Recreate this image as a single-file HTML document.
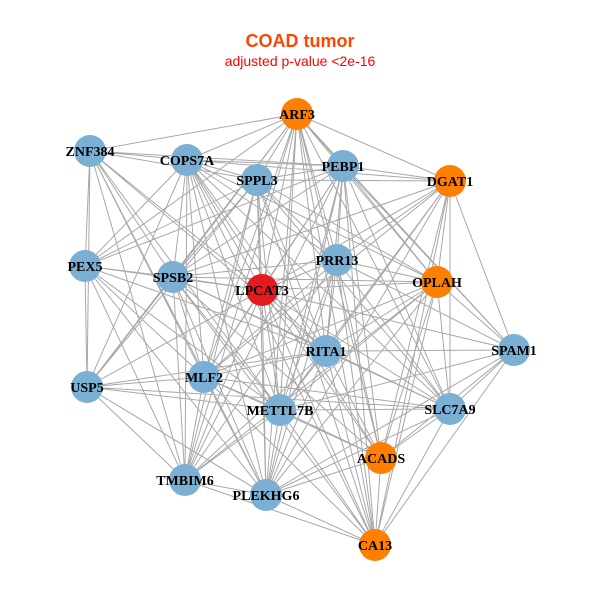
<!DOCTYPE html>
<html><head><meta charset="utf-8"><style>body{margin:0;background:#fff}svg{display:block}</style></head><body>
<svg width="600" height="600" xmlns="http://www.w3.org/2000/svg">
<rect width="600" height="600" fill="#fff"/>
<text x="300" y="47" text-anchor="middle" font-family="Liberation Sans, sans-serif" font-weight="bold" font-size="18" fill="#FF4500">COAD tumor</text>
<text x="300" y="66" text-anchor="middle" font-family="Liberation Sans, sans-serif" font-size="14" fill="#FF0000">adjusted p-value &lt;2e-16</text>
<path fill="none" stroke="#a8a8a8" stroke-width="1" d="
M297 114L90 151M297 114L187 160M297 114L257 180M297 114L343 166M297 114L450 181M297 114L85 266M297 114L173 277M297 114L337 260M297 114L262 290M297 114L437 282M297 114L514 350M297 114L326 351M297 114L204 377M297 114L87 387M297 114L280 410M297 114L450 409M297 114L381 458M297 114L185 480M297 114L266 495M297 114L375 545
M90 151L187 160M90 151L257 180M90 151L343 166M90 151L85 266M90 151L173 277M90 151L262 290M90 151L326 351M90 151L204 377M90 151L87 387M90 151L280 410M90 151L185 480M90 151L266 495
M187 160L257 180M187 160L343 166M187 160L450 181M187 160L85 266M187 160L173 277M187 160L337 260M187 160L262 290M187 160L437 282M187 160L326 351M187 160L204 377M187 160L87 387M187 160L280 410M187 160L450 409M187 160L381 458M187 160L185 480M187 160L266 495M187 160L375 545
M257 180L343 166M257 180L450 181M257 180L85 266M257 180L173 277M257 180L337 260M257 180L262 290M257 180L437 282M257 180L326 351M257 180L204 377M257 180L87 387M257 180L280 410M257 180L450 409M257 180L185 480M257 180L266 495M257 180L375 545
M343 166L450 181M343 166L85 266M343 166L173 277M343 166L337 260M343 166L262 290M343 166L437 282M343 166L514 350M343 166L326 351M343 166L204 377M343 166L280 410M343 166L450 409M343 166L381 458M343 166L185 480M343 166L266 495M343 166L375 545
M450 181L173 277M450 181L337 260M450 181L262 290M450 181L437 282M450 181L514 350M450 181L326 351M450 181L204 377M450 181L280 410M450 181L450 409M450 181L381 458M450 181L266 495M450 181L375 545
M85 266L173 277M85 266L262 290M85 266L326 351M85 266L204 377M85 266L87 387M85 266L280 410M85 266L185 480M85 266L266 495
M173 277L337 260M173 277L262 290M173 277L437 282M173 277L326 351M173 277L204 377M173 277L87 387M173 277L280 410M173 277L450 409M173 277L381 458M173 277L185 480M173 277L266 495M173 277L375 545
M337 260L262 290M337 260L437 282M337 260L514 350M337 260L326 351M337 260L204 377M337 260L280 410M337 260L450 409M337 260L381 458M337 260L185 480M337 260L266 495M337 260L375 545
M262 290L437 282M262 290L514 350M262 290L326 351M262 290L204 377M262 290L87 387M262 290L280 410M262 290L450 409M262 290L381 458M262 290L185 480M262 290L266 495M262 290L375 545
M437 282L514 350M437 282L326 351M437 282L204 377M437 282L280 410M437 282L450 409M437 282L381 458M437 282L185 480M437 282L266 495M437 282L375 545
M514 350L326 351M514 350L280 410M514 350L450 409M514 350L381 458M514 350L266 495M514 350L375 545
M326 351L204 377M326 351L87 387M326 351L280 410M326 351L450 409M326 351L381 458M326 351L185 480M326 351L266 495M326 351L375 545
M204 377L87 387M204 377L280 410M204 377L450 409M204 377L381 458M204 377L185 480M204 377L266 495M204 377L375 545
M87 387L280 410M87 387L185 480M87 387L266 495M87 387L450 409
M280 410L450 409M280 410L381 458M280 410L185 480M280 410L266 495M280 410L375 545
M450 409L381 458M450 409L266 495M450 409L375 545
M381 458L266 495M381 458L375 545M185 480L266 495M185 480L375 545M266 495L375 545"/>
<g stroke="none">
<circle cx="297" cy="114" r="16" fill="#FF7F00"/>
<circle cx="90" cy="151" r="16" fill="#7BAFD4"/>
<circle cx="187" cy="160" r="16" fill="#7BAFD4"/>
<circle cx="257" cy="180" r="16" fill="#7BAFD4"/>
<circle cx="343" cy="166" r="16" fill="#7BAFD4"/>
<circle cx="450" cy="181" r="16" fill="#FF7F00"/>
<circle cx="85" cy="266" r="16" fill="#7BAFD4"/>
<circle cx="173" cy="277" r="16" fill="#7BAFD4"/>
<circle cx="337" cy="260" r="16" fill="#7BAFD4"/>
<circle cx="262" cy="290" r="16" fill="#E41A1C"/>
<circle cx="437" cy="282" r="16" fill="#FF7F00"/>
<circle cx="514" cy="350" r="16" fill="#7BAFD4"/>
<circle cx="326" cy="351" r="16" fill="#7BAFD4"/>
<circle cx="204" cy="377" r="16" fill="#7BAFD4"/>
<circle cx="87" cy="387" r="16" fill="#7BAFD4"/>
<circle cx="280" cy="410" r="16" fill="#7BAFD4"/>
<circle cx="450" cy="409" r="16" fill="#7BAFD4"/>
<circle cx="381" cy="458" r="16" fill="#FF7F00"/>
<circle cx="185" cy="480" r="16" fill="#7BAFD4"/>
<circle cx="266" cy="495" r="16" fill="#7BAFD4"/>
<circle cx="375" cy="545" r="16" fill="#FF7F00"/>
</g>
<g font-family="Liberation Serif, serif" font-weight="bold" font-size="14" text-anchor="middle" fill="#000">
<text x="297" y="119">ARF3</text>
<text x="90" y="156">ZNF384</text>
<text x="187" y="165">COPS7A</text>
<text x="257" y="185">SPPL3</text>
<text x="343" y="171">PEBP1</text>
<text x="450" y="186">DGAT1</text>
<text x="85" y="271">PEX5</text>
<text x="173" y="282">SPSB2</text>
<text x="337" y="265">PRR13</text>
<text x="262" y="295">LPCAT3</text>
<text x="437" y="287">OPLAH</text>
<text x="514" y="355">SPAM1</text>
<text x="326" y="356">RITA1</text>
<text x="204" y="382">MLF2</text>
<text x="87" y="392">USP5</text>
<text x="280" y="415">METTL7B</text>
<text x="450" y="414">SLC7A9</text>
<text x="381" y="463">ACADS</text>
<text x="185" y="485">TMBIM6</text>
<text x="266" y="500">PLEKHG6</text>
<text x="375" y="550">CA13</text>
</g>
</svg>
</body></html>
